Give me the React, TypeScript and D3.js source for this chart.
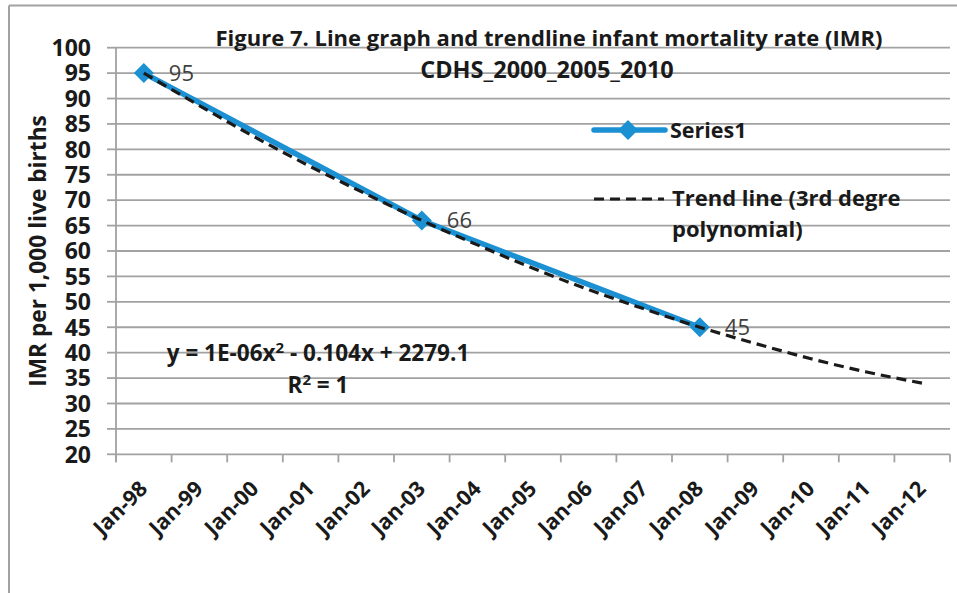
import React from "react";
import * as d3 from "d3";

const categories = ["Jan-98","Jan-99","Jan-00","Jan-01","Jan-02","Jan-03","Jan-04","Jan-05","Jan-06","Jan-07","Jan-08","Jan-09","Jan-10","Jan-11","Jan-12"];
const seriesCats = ["Jan-98","Jan-03","Jan-08"];
const seriesValues = [95, 66, 45];
const trendValues = [95, 88.6, 82.4, 76.6, 71.2, 66, 61.2, 56.6, 52.4, 48.6, 45, 41.8, 38.8, 36.2, 34];
const yTicks = [20,25,30,35,40,45,50,55,60,65,70,75,80,85,90,95,100];

const FONT = "'Open Sans', 'Noto Sans', sans-serif";
const GRID = "#a2a2a2";
const BLUE = "#1b90d2";
const INK = "#1a1a1a";

export default function App() {
  const x = d3.scaleBand<string>().domain(categories).range([116, 950]).paddingInner(0).paddingOuter(0);
  const y = d3.scaleLinear().domain([20, 100]).range([454.3, 47.7]);
  const cx = (c: string) => (x(c) as number) + x.bandwidth() / 2;

  const seriesLine = d3.line<number>().x((_, i) => cx(seriesCats[i])).y((d) => y(d));
  const trendLine = d3.line<number>().x((_, i) => cx(categories[i])).y((d) => y(d)).curve(d3.curveMonotoneX);

  const diamond = (px: number, py: number, r: number) =>
    `M${px},${py - r}L${px + r},${py}L${px},${py + r}L${px - r},${py}Z`;

  const boundaries = categories.map((c) => x(c) as number).concat([950]);

  return (
    <svg width={957} height={593} style={{ position: "absolute", left: 0, top: 0, background: "#fff" }} fontFamily={FONT}>
      <rect x={0} y={0} width={957} height={593} fill="#fff" />
      {/* outer frame */}
      <line x1={9} y1={5.5} x2={957} y2={5.5} stroke={GRID} strokeWidth={2} />
      <line x1={9} y1={5.5} x2={9} y2={593} stroke={GRID} strokeWidth={2} />

      {/* gridlines */}
      {yTicks.filter((t) => t > 20).map((t) => (
        <line key={t} x1={116} x2={950} y1={y(t)} y2={y(t)} stroke={GRID} strokeWidth={1.8} />
      ))}
      {/* axes */}
      <line x1={116} x2={950} y1={y(20)} y2={y(20)} stroke={GRID} strokeWidth={1.8} />
      <line x1={116} x2={116} y1={y(100)} y2={y(20) + 8} stroke={GRID} strokeWidth={1.8} />
      {yTicks.map((t) => (
        <line key={"yt" + t} x1={107} x2={116} y1={y(t)} y2={y(t)} stroke={GRID} strokeWidth={1.8} />
      ))}
      {boundaries.map((b, i) => (
        <line key={"xt" + i} x1={b} x2={b} y1={y(20)} y2={y(20) + 8} stroke={GRID} strokeWidth={1.8} />
      ))}

      {/* y labels */}
      {yTicks.map((t) => (
        <text key={"yl" + t} x={91} y={y(t)} dy="0.36em" textAnchor="end" fontSize={23} fontWeight={700} fill={INK}>
          {t}
        </text>
      ))}
      {/* x labels */}
      {categories.map((c) => (
        <text key={"xl" + c} transform={`translate(${cx(c) + 5},${490}) rotate(-45)`} textAnchor="end" fontSize={21.5} fontWeight={700} fill={INK}>
          {c}
        </text>
      ))}

      {/* y title */}
      <text transform={`translate(38,${(y(100) + y(20)) / 2}) rotate(-90)`} textAnchor="middle" dy="0.35em" fontSize={22.7} fontWeight={700} fill={INK}>
        IMR per 1,000 live births
      </text>

      {/* title */}
      <text x={549} y={46} textAnchor="middle" fontSize={22} fontWeight={700} fill={INK}>
        Figure 7. Line graph and trendline infant mortality rate (IMR)
      </text>
      <text x={547} y={78} textAnchor="middle" fontSize={23.5} fontWeight={700} fill={INK}>
        CDHS_2000_2005_2010
      </text>

      {/* series */}
      <path d={seriesLine(seriesValues) || ""} fill="none" stroke={BLUE} strokeWidth={5.5} strokeLinejoin="round" />
      {seriesValues.map((v, i) => (
        <path key={"m" + i} d={diamond(cx(seriesCats[i]), y(v), 10)} fill={BLUE} />
      ))}
      {/* trend */}
      <path d={trendLine(trendValues) || ""} fill="none" stroke={INK} strokeWidth={3.2} strokeDasharray="10,6" />

      {/* data labels */}
      {seriesValues.map((v, i) => (
        <text key={"dl" + i} x={cx(seriesCats[i]) + 25} y={y(v)} dy="0.36em" fontSize={22} fill="#404040">
          {v}
        </text>
      ))}

      {/* equation */}
      <text x={318} y={361} textAnchor="middle" fontSize={22.5} fontWeight={700} fill={INK}>
        y = 1E-06x<tspan dy={-8} fontSize={15}>2</tspan><tspan dy={8}> - 0.104x + 2279.1</tspan>
      </text>
      <text x={318} y={393} textAnchor="middle" fontSize={22.5} fontWeight={700} fill={INK}>
        R<tspan dy={-8} fontSize={15}>2</tspan><tspan dy={8}> = 1</tspan>
      </text>

      {/* legend */}
      <line x1={594} x2={665} y1={130} y2={130} stroke={BLUE} strokeWidth={5.5} strokeLinecap="round" />
      <path d={diamond(628, 130, 10)} fill={BLUE} />
      <text x={670} y={138} fontSize={21.5} fontWeight={700} fill={INK}>Series1</text>
      <line x1={594} x2={664} y1={199} y2={199} stroke={INK} strokeWidth={3.2} strokeDasharray="10,6" />
      <text x={672} y={206} fontSize={22} fontWeight={700} fill={INK}>Trend line (3rd degre</text>
      <text x={672} y={237} fontSize={22} fontWeight={700} fill={INK}>polynomial)</text>
    </svg>
  );
}
